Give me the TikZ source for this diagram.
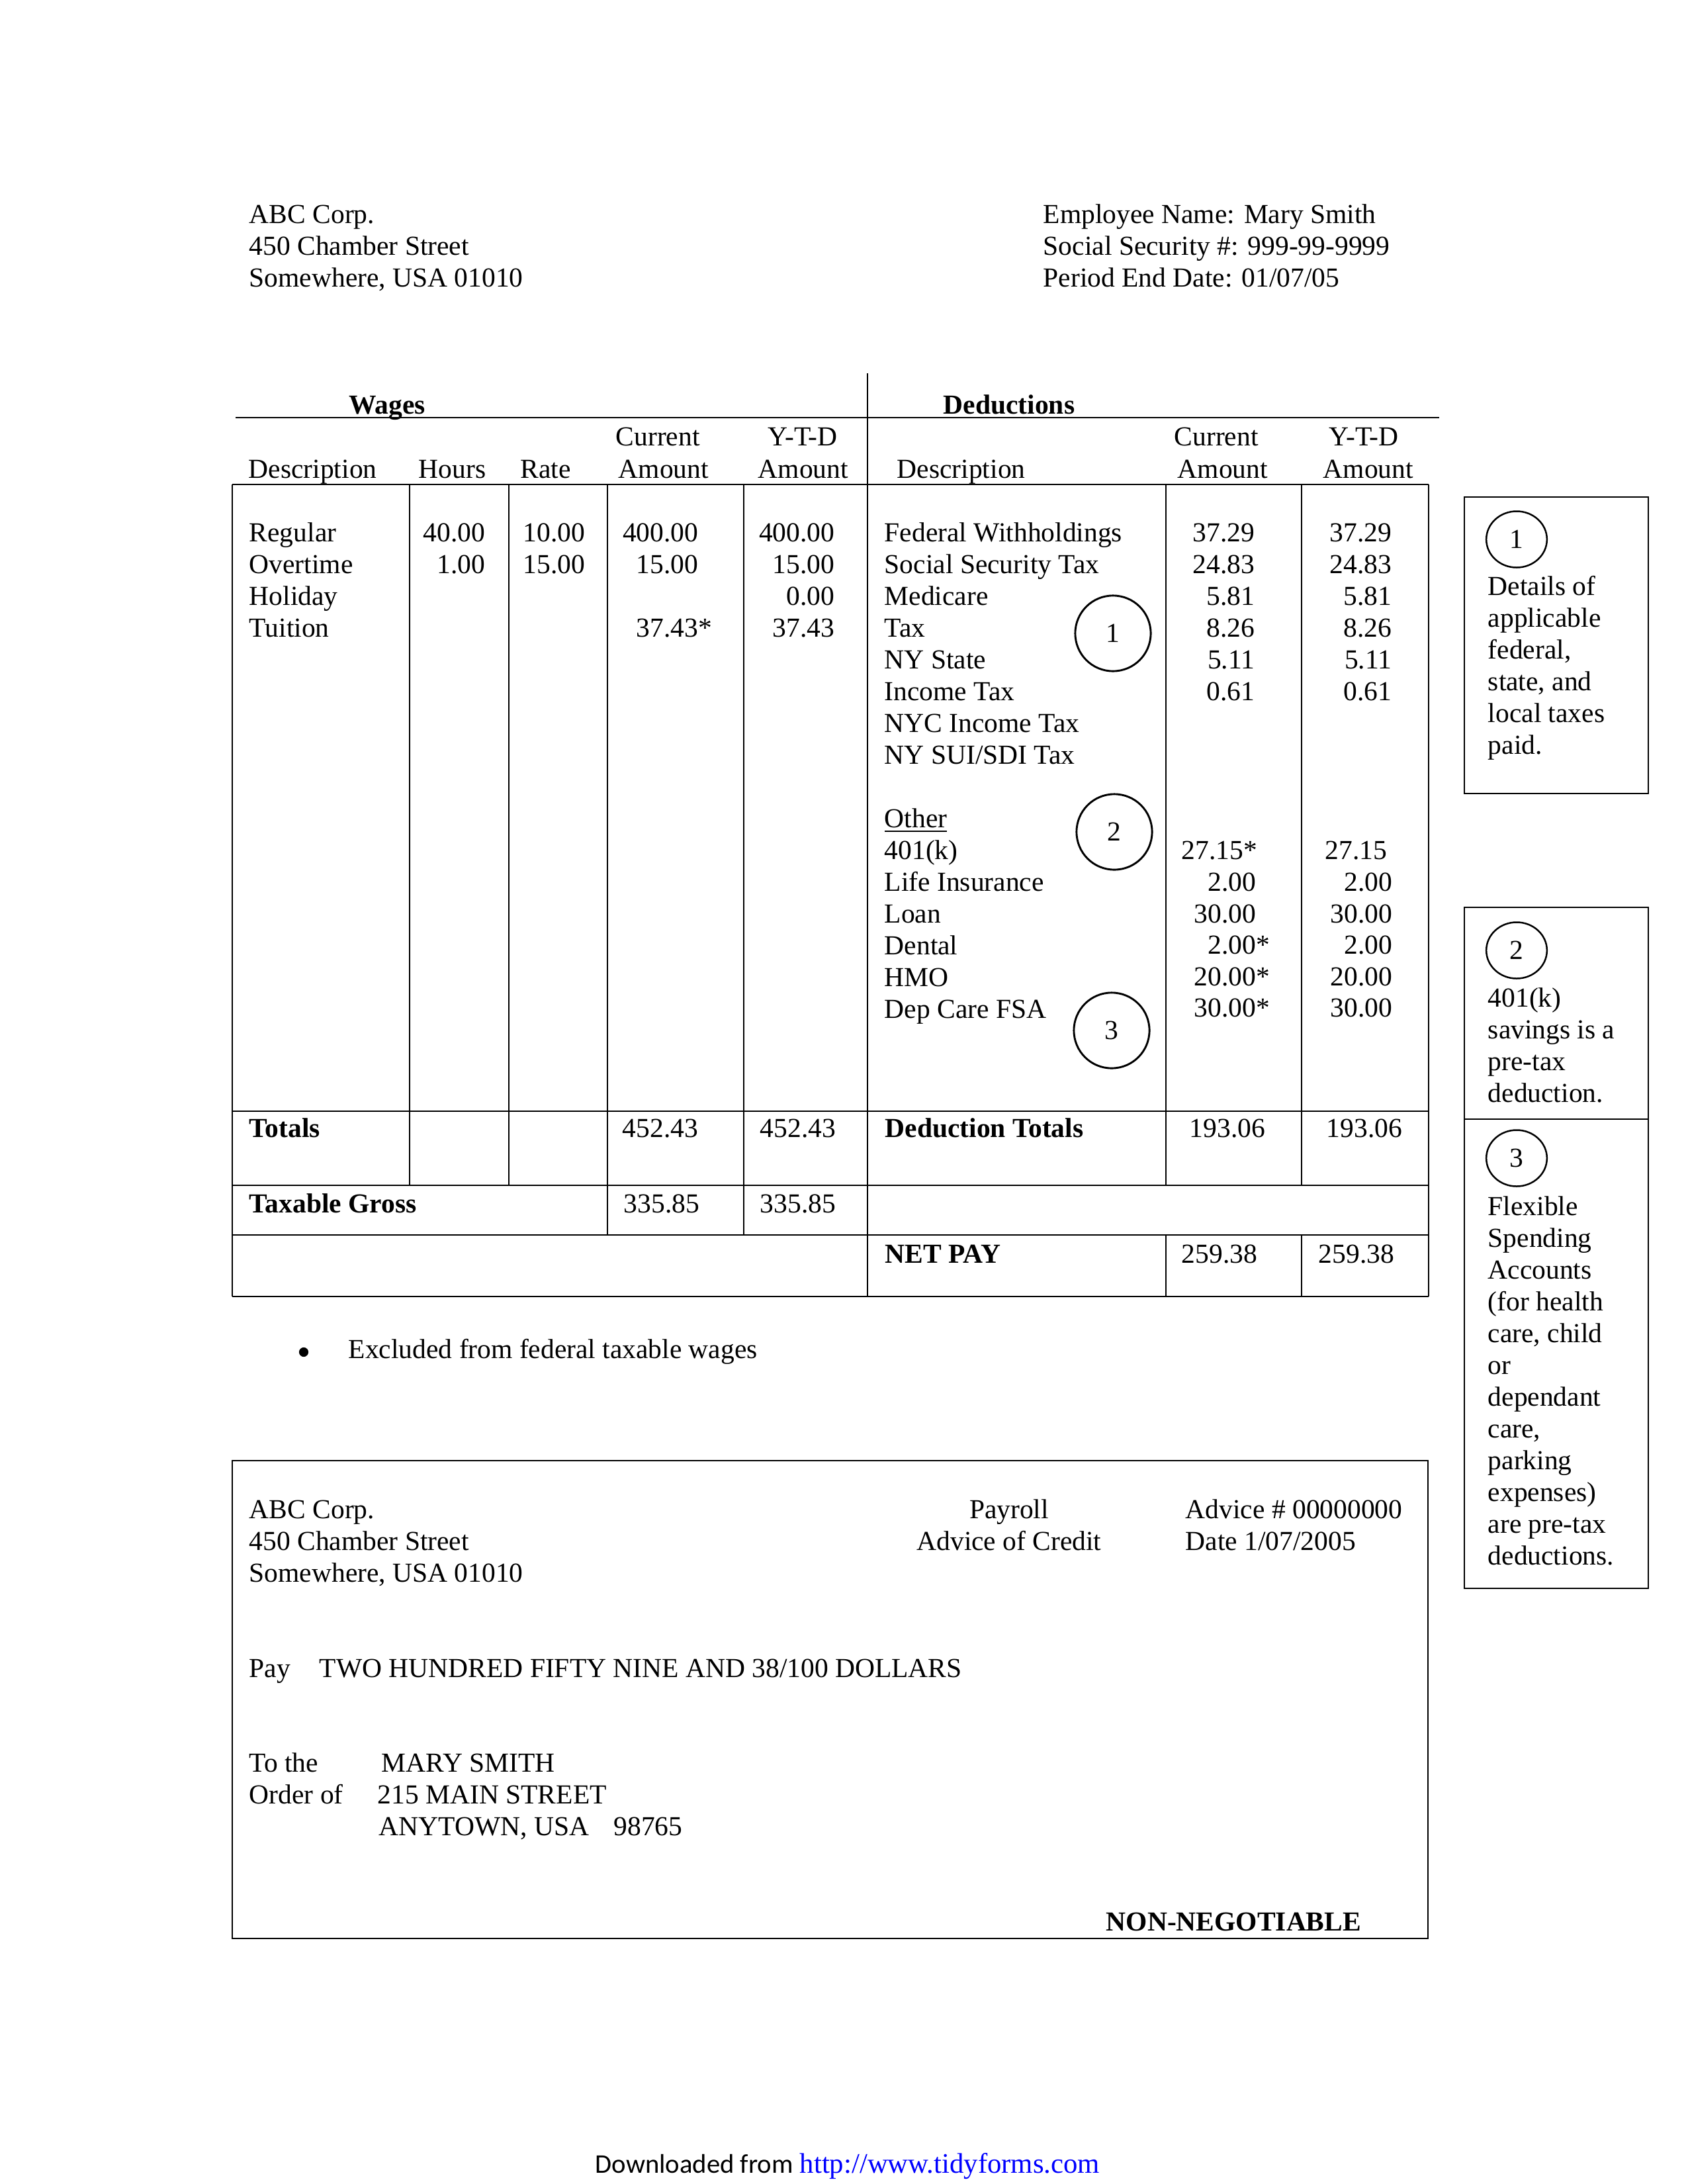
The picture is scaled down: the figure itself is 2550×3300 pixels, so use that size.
\documentclass[tikz,border=0pt]{standalone}
\usepackage{fontspec}
\setmainfont{Liberation Serif}
\newfontfamily\carlito{Carlito}
\usetikzlibrary{shapes.geometric}
\definecolor{linkblue}{RGB}{0,0,255}
\begin{document}
\fontsize{10}{11.5}\selectfont
\begin{tikzpicture}[x=0.24bp, y=-0.24bp,
  t/.style={anchor=base west, inner sep=0pt, font=\fontsize{10}{11.5}\selectfont},
  tr/.style={anchor=base east, inner sep=0pt, font=\fontsize{10}{11.5}\selectfont},
  tc/.style={anchor=base, inner sep=0pt, font=\fontsize{10}{11.5}\selectfont},
  bt/.style={anchor=base west, inner sep=0pt, font=\fontsize{10}{11.5}\selectfont\bfseries},
  rulemain/.style={line width=0.6pt},
  ruleinner/.style={line width=0.45pt},
  callout/.style={circle, draw, line width=0.7pt, minimum size=27.4bp, inner sep=0pt, font=\fontsize{10}{11.5}\selectfont},
  keyell/.style={ellipse, draw, line width=0.6pt, minimum width=22bp, minimum height=20.4bp, inner sep=0pt, font=\fontsize{10}{11.5}\selectfont},
  notebox/.style={draw, line width=0.7pt}
]
\useasboundingbox (0,0) rectangle (2550,3300);

% ---------- header ----------
\node[t] (hl1) at (376,337) {ABC Corp.};
\node[t] (hl2) at (376,385) {450 Chamber Street};
\node[t] (hl3) at (376,433) {Somewhere, USA 01010};
\node[t] (hr1) at (1576,337) {Employee Name: Mary Smith};
\node[t] (hr2) at (1576,385) {Social Security \#: 999-99-9999};
\node[t] (hr3) at (1576,433) {Period End Date: 01/07/05};

% ---------- table rules ----------
\draw[rulemain] (1311,564) -- (1311,1959);
\draw[rulemain] (356,631) -- (2175,631);
\draw[rulemain] (351,732) -- (2159,732);
\foreach \yy in {1679,1791,1866,1959} \draw[rulemain] (351,\yy) -- (2159,\yy);
\draw[rulemain] (351,732) -- (351,1959);
\draw[rulemain] (2159,732) -- (2159,1959);
\draw[ruleinner] (619,732) -- (619,1791) (769,732) -- (769,1791)
  (918,732) -- (918,1866) (1124,732) -- (1124,1866)
  (1762,732) -- (1762,1791) (1762,1866) -- (1762,1959)
  (1967,732) -- (1967,1791) (1967,1866) -- (1967,1959);

% ---------- table headings ----------
\node[tc, font=\fontsize{10}{11.5}\selectfont\bfseries] (wages) at (585,625) {Wages};
\node[bt] (deds) at (1425,625) {Deductions};
\node[t] (hcur1) at (930,673) {Current};
\node[t] (hytd1) at (1160,673) {Y-T-D};
\node[t] (hdesc1) at (375,722) {Description};
\node[t] (hhrs) at (632,722) {Hours};
\node[t] (hrate) at (786,722) {Rate};
\node[t] (hamt1) at (934,722) {Amount};
\node[t] (hamt2) at (1145,722) {Amount};
\node[t] (hdesc2) at (1355,722) {Description};
\node[t] (hcur2) at (1774,673) {Current};
\node[t] (hytd2) at (2008,673) {Y-T-D};
\node[t] (hamt3) at (1779,722) {Amount};
\node[t] (hamt4) at (1999,722) {Amount};

% ---------- wages body ----------
\foreach \s [count=\i from 0] in {Regular,Overtime,Holiday,Tuition}
  \node[t] (wd\i) at (376,{818+48*\i}) {\s};
\node[tr] (hrs0) at (734,818) {40.00};
\node[tr] (hrs1) at (734,866) {1.00};
\node[tr] (rt0) at (885,818) {10.00};
\node[tr] (rt1) at (885,866) {15.00};
\node[tr] (wc0) at (1056,818) {400.00};
\node[tr] (wc1) at (1056,866) {15.00};
\node[tr] (wc3) at (1056,962) {37.43\rlap{*}};
\node[tr] (wy0) at (1262,818) {400.00};
\node[tr] (wy1) at (1262,866) {15.00};
\node[tr] (wy2) at (1262,914) {0.00};
\node[tr] (wy3) at (1262,962) {37.43};

% ---------- deductions body ----------
\foreach \s [count=\i from 0] in {Federal Withholdings,Social Security Tax,Medicare,Tax,NY State,Income Tax,NYC Income Tax,NY SUI/SDI Tax}
  \node[t] (dd\i) at (1336,{818+48*\i}) {\s};
\node[t] (other) at (1336,1250) {\underline{Other}};
\foreach \s [count=\i from 10] in {401(k),Life Insurance,Loan,Dental,HMO,Dep Care FSA}
  \node[t] (dd\i) at (1336,{818+48*\i}) {\s};
\foreach \v [count=\i from 0] in {37.29,24.83,5.81,8.26,5.11,0.61} {
  \node[tr] (dc\i) at (1897,{818+48*\i}) {\v};
  \node[tr] (dy\i) at (2104,{818+48*\i}) {\v};
}
\node[t] (dc10) at (1785,1298) {27.15*};
\node[t] (dy10) at (2002,1298) {27.15};
\node[tr] (dc11) at (1899,1346) {2.00};
\node[tr] (dc12) at (1899,1394) {30.00};
\node[tr] (dc13) at (1899,1441) {2.00\rlap{*}};
\node[tr] (dc14) at (1899,1489) {20.00\rlap{*}};
\node[tr] (dc15) at (1899,1536) {30.00\rlap{*}};
\node[tr] (dy11) at (2105,1346) {2.00};
\node[tr] (dy12) at (2105,1394) {30.00};
\node[tr] (dy13) at (2105,1441) {2.00};
\node[tr] (dy14) at (2105,1489) {20.00};
\node[tr] (dy15) at (2105,1536) {30.00};

% callout circles
\node[callout] (c1) at (1682,957) {1};
\node[callout] (c2) at (1684,1257) {2};
\node[callout] (c3) at (1680,1557) {3};

% ---------- totals ----------
\node[bt] (tot) at (376,1718) {Totals};
\node[t] (totc) at (940,1718) {452.43};
\node[t] (toty) at (1148,1718) {452.43};
\node[bt] (dtot) at (1337,1718) {Deduction Totals};
\node[t] (dtotc) at (1797,1718) {193.06};
\node[t] (dtoty) at (2004,1718) {193.06};
\node[bt] (tg) at (376,1832) {Taxable Gross};
\node[t] (tgc) at (942,1832) {335.85};
\node[t] (tgy) at (1148,1832) {335.85};
\node[bt] (np) at (1337,1908) {NET PAY};
\node[t] (npc) at (1785,1908) {259.38};
\node[t] (npy) at (1992,1908) {259.38};

% ---------- footnote ----------
\node[circle, fill, inner sep=0pt, minimum size=3.4bp] (bul) at (459,2043) {};
\node[t] (foot) at (526,2052) {Excluded from federal taxable wages};

% ---------- side notes ----------
\draw[notebox] (2213,751) rectangle (2491,1199);
\draw[notebox] (2213,1371) rectangle (2491,2400);
\draw[notebox] (2213,1691) -- (2491,1691);
\node[keyell] (k1) at (2292,815) {1};
\node[keyell] (k2) at (2292,1436) {2};
\node[keyell] (k3) at (2292,1750) {3};
\foreach \s [count=\i from 0] in {Details of,applicable,{federal,},{state, and},local taxes,paid.}
  \node[t] (na\i) at (2248,{899+48*\i}) {\s};
\foreach \s [count=\i from 0] in {401(k),savings is a,pre-tax,deduction.}
  \node[t] (nb\i) at (2248,{1521+48*\i}) {\s};
\foreach \s [count=\i from 0] in {Flexible,Spending,Accounts,{(for health},{care, child},or,dependant,{care,},parking,{expenses)},are pre-tax,deductions.}
  \node[t] (nc\i) at (2248,{1836+48*\i}) {\s};

% ---------- advice of credit ----------
\draw[rulemain] (351,2207) rectangle (2158,2929);
\node[t] (al1) at (376,2294) {ABC Corp.};
\node[t] (al2) at (376,2342) {450 Chamber Street};
\node[t] (al3) at (376,2390) {Somewhere, USA 01010};
\node[tc] (am1) at (1525,2294) {Payroll};
\node[tc] (am2) at (1525,2342) {Advice of Credit};
\node[t] (ar1) at (1791,2294) {Advice \# 00000000};
\node[t] (ar2) at (1791,2342) {Date 1/07/2005};
\node[t] (pay) at (376,2534) {Pay};
\node[t] (payamt) at (482,2534) {TWO HUNDRED FIFTY NINE AND 38/100 DOLLARS};
\node[t] (to1) at (376,2677) {To the};
\node[t] (to2) at (376,2725) {Order of};
\node[t] (nm1) at (576,2677) {MARY SMITH};
\node[t] (nm2) at (570,2725) {215 MAIN STREET};
\node[t] (nm3) at (572,2773) {ANYTOWN, USA\hspace{0.9em}98765};
\node[bt] (nonneg) at (1671,2917) {NON-NEGOTIABLE};

% ---------- footer ----------
\node[t, font=\carlito\fontsize{9.8}{12}\selectfont] (dl) at (899,3283) {Downloaded from};
\node[t, text=linkblue, font=\fontsize{10.3}{12}\selectfont] (url) at (1208,3283) {http://www.tidyforms.com};
\end{tikzpicture}
\end{document}
